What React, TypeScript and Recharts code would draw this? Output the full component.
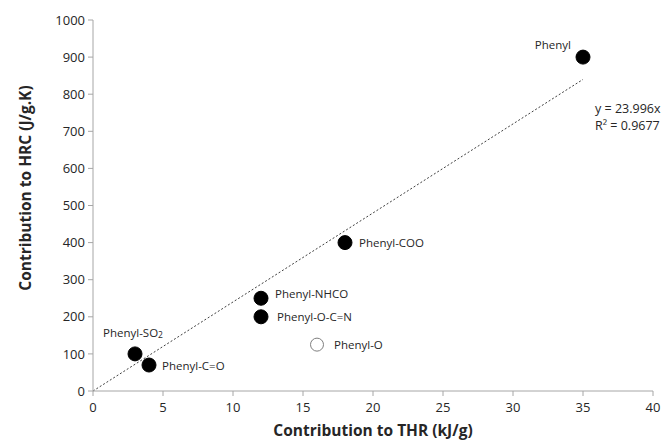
import React from "react";
import { ScatterChart, Scatter, XAxis, YAxis, ReferenceLine, ReferenceDot, Label } from "recharts";

const fittedNames = ["Phenyl", "Phenyl-COO", "Phenyl-NHCO", "Phenyl-O-C=N", "Phenyl-SO2", "Phenyl-C=O"];
const fittedTHR = [35, 18, 12, 12, 3, 4];
const fittedHRC = [900, 400, 250, 200, 100, 70];

const excludedNames = ["Phenyl-O"];
const excludedTHR = [16];
const excludedHRC = [125];

const xTicks = [0, 5, 10, 15, 20, 25, 30, 35, 40];
const yTicks = [0, 100, 200, 300, 400, 500, 600, 700, 800, 900, 1000];

const slope = 23.996;
const rSquared = 0.9677;
const fitEndX = 35;

const fittedData = fittedNames.map((name, i) => ({ name, x: fittedTHR[i], y: fittedHRC[i] }));
const excludedData = excludedNames.map((name, i) => ({ name, x: excludedTHR[i], y: excludedHRC[i] }));

const FONT = "'Open Sans', sans-serif";
const AXIS_GRAY = "#a6a6a6";
const TEXT = "#262626";

const labelPlacement: Record<string, { dx: number; dy: number; anchor: "start" | "middle" | "end" }> = {
  "Phenyl": { dx: -12, dy: -13, anchor: "end" },
  "Phenyl-COO": { dx: 14, dy: 0, anchor: "start" },
  "Phenyl-NHCO": { dx: 14, dy: -5, anchor: "start" },
  "Phenyl-O-C=N": { dx: 16, dy: 0, anchor: "start" },
  "Phenyl-O": { dx: 17, dy: 0, anchor: "start" },
  "Phenyl-SO2": { dx: -2, dy: -21, anchor: "middle" },
  "Phenyl-C=O": { dx: 13, dy: 0, anchor: "start" },
};

function renderName(name: string) {
  if (name.endsWith("SO2")) {
    return (
      <>
        {name.slice(0, -1)}
        <tspan fontSize={8.5} dy={1.5}>2</tspan>
      </>
    );
  }
  return name;
}

function makeShape(filled: boolean) {
  return (props: any) => {
    const { cx, cy, payload } = props;
    const p = labelPlacement[payload.name] || { dx: 12, dy: 0, anchor: "start" };
    return (
      <g>
        <circle
          cx={cx}
          cy={cy}
          r={filled ? 7 : 6.5}
          fill={filled ? "#000" : "#fff"}
          stroke={filled ? "#000" : "#7f7f7f"}
          strokeWidth={1}
        />
        <text
          x={cx + p.dx}
          y={cy + p.dy}
          textAnchor={p.anchor}
          dominantBaseline="central"
          fontFamily={FONT}
          fontSize={11.5}
          fill={TEXT}
        >
          {renderName(payload.name)}
        </text>
      </g>
    );
  };
}

const YTitle = (props: any) => {
  const vb = props.viewBox;
  const cx = vb.x + 17;
  const cy = vb.y + 168;
  return (
    <text
      x={cx}
      y={cy}
      transform={`rotate(-90 ${cx} ${cy})`}
      textAnchor="middle"
      dominantBaseline="central"
      fontFamily={FONT}
      fontWeight="bold"
      fontSize={15.5}
      fill={TEXT}
    >
      Contribution to HRC (J/g.K)
    </text>
  );
};

const XTitle = (props: any) => {
  const vb = props.viewBox;
  const cx = vb.x + vb.width / 2;
  const cy = vb.y + 39;
  return (
    <text
      x={cx}
      y={cy}
      textAnchor="middle"
      dominantBaseline="central"
      fontFamily={FONT}
      fontWeight="bold"
      fontSize={15.5}
      fill={TEXT}
    >
      Contribution to THR (kJ/g)
    </text>
  );
};

const EquationLabel = (props: any) => {
  const vb = props.viewBox;
  const x = vb.x + 12;
  const y = vb.y;
  return (
    <text fontFamily={FONT} fontSize={12.5} fill={TEXT}>
      <tspan x={x} y={y + 29} dominantBaseline="central">{`y = ${slope}x`}</tspan>
      <tspan x={x} y={y + 46} dominantBaseline="central">{`R² = ${rSquared}`}</tspan>
    </text>
  );
};

export default function App() {
  return (
    <div style={{ width: 664, height: 441, fontFamily: FONT }}>
      <style>{`body { margin: 0; } html { overflow: hidden; }`}</style>
      <ScatterChart width={664} height={441} margin={{ top: 20, right: 11, bottom: 0, left: 8 }}>
        <XAxis
          type="number"
          dataKey="x"
          domain={[0, 40]}
          ticks={xTicks}
          height={50}
          axisLine={{ stroke: AXIS_GRAY }}
          tickLine={{ stroke: AXIS_GRAY }}
          tickSize={5}
          tickMargin={7}
          tick={{ fontFamily: FONT, fontSize: 13, fill: TEXT }}
          label={<Label content={XTitle} />}
        />
        <YAxis
          type="number"
          dataKey="y"
          domain={[0, 1000]}
          ticks={yTicks}
          width={85}
          axisLine={{ stroke: AXIS_GRAY }}
          tickLine={{ stroke: AXIS_GRAY }}
          tickSize={5}
          tickMargin={3}
          tick={{ fontFamily: FONT, fontSize: 13, fill: TEXT }}
          label={<Label content={YTitle} />}
        />
        <ReferenceLine
          segment={[
            { x: 0, y: 0 },
            { x: fitEndX, y: slope * fitEndX },
          ]}
          stroke="#404040"
          strokeWidth={1}
          strokeDasharray="2 2"
          ifOverflow="visible"
        />
        <ReferenceDot
          x={fitEndX}
          y={slope * fitEndX}
          r={0}
          fill="none"
          stroke="none"
          ifOverflow="visible"
          label={<Label content={EquationLabel} />}
        />
        <Scatter data={fittedData} shape={makeShape(true)} isAnimationActive={false} />
        <Scatter data={excludedData} shape={makeShape(false)} isAnimationActive={false} />
      </ScatterChart>
    </div>
  );
}
